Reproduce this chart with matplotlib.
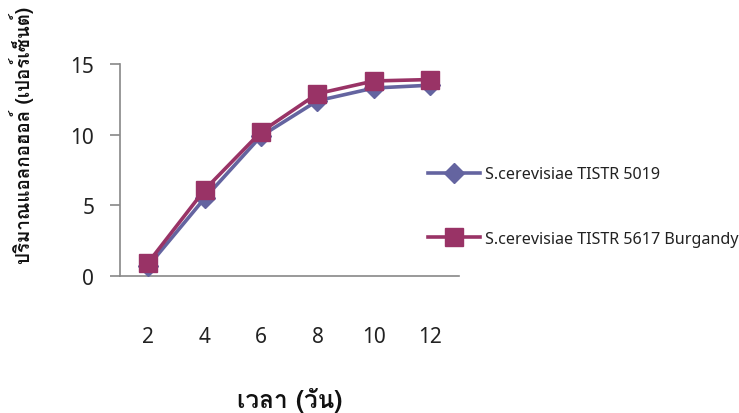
import matplotlib
matplotlib.use("Agg")
import matplotlib.pyplot as plt
import numpy as np

# Fermentation time (days) and alcohol content (% v/v)
days = ["2", "4", "6", "8", "10", "12"]
strain_5019 = [0.7, 5.5, 9.9, 12.4, 13.3, 13.5]
strain_5617 = [0.95, 6.1, 10.2, 12.9, 13.8, 13.9]
label_5019 = "S.cerevisiae TISTR 5019"
label_5617 = "S.cerevisiae TISTR 5617 Burgandy"
y_ticks = [0, 5, 10, 15]

THAI = ["Loma", "Noto Sans", "DejaVu Sans"]
LATIN = ["Noto Sans", "DejaVu Sans"]
plt.rcParams["font.family"] = LATIN

BLUE = "#6464A0"
WINE = "#993366"
AXIS = "#888888"

fig = plt.figure(figsize=(7.39, 4.14), dpi=100)
ax = fig.add_axes([120 / 739, 137 / 414, 338.5 / 739, 212 / 414])

x = np.arange(len(days))
ax.plot(x, strain_5019, color=BLUE, lw=2.6, marker="D", ms=10.5,
        mfc=BLUE, mec=BLUE, label=label_5019, clip_on=False, zorder=3)
ax.plot(x, strain_5617, color=WINE, lw=2.6, marker="s", ms=13,
        mfc=WINE, mec=WINE, label=label_5617, clip_on=False, zorder=4)

ax.set_xlim(-0.5, len(days) - 0.5)
ax.set_ylim(0, 15)
ax.set_xticks(x)
ax.set_xticklabels(days)
ax.set_yticks(y_ticks)

for s in ("top", "right"):
    ax.spines[s].set_visible(False)
for s in ("left", "bottom"):
    ax.spines[s].set_color(AXIS)
    ax.spines[s].set_linewidth(1.2)

ax.tick_params(axis="y", direction="out", length=7.5, width=1.2, color=AXIS,
               labelsize=15, pad=11, labelcolor="#222222")
ax.tick_params(axis="x", length=0, labelsize=15, pad=36, labelcolor="#222222")

leg = ax.legend(loc="center left", bbox_to_anchor=(428 / 739, (414 - 207.5) / 414),
                bbox_transform=fig.transFigure, frameon=False, fontsize=11.6,
                handlelength=3.25, handletextpad=0.3, labelspacing=3.0,
                borderpad=0, borderaxespad=0)
for t in leg.get_texts():
    t.set_color("#222222")

fig.text(22 / 739, (414 - 135) / 414, "ปริมาณแอลกอฮอล์ (เปอร์เซ็นต์)",
         rotation=90, ha="center", va="center", fontsize=13.5,
         fontweight="bold", family=THAI, color="#111111")
fig.text(289.5 / 739, (414 - 401) / 414, "เวลา (วัน)",
         ha="center", va="center", fontsize=17.5, fontweight="bold",
         family=THAI, color="#111111")

fig.savefig("out.png", dpi=100)
